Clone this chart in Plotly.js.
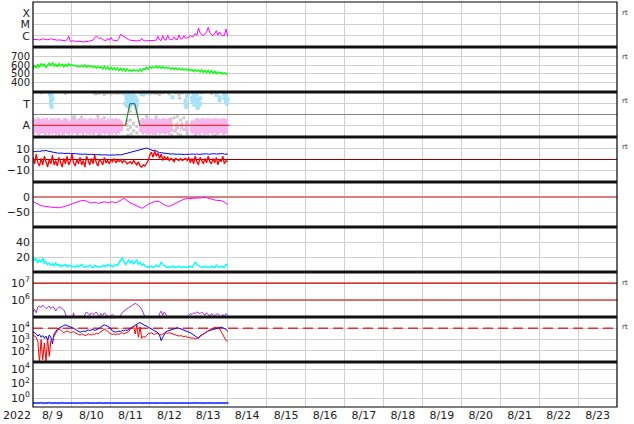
<!DOCTYPE html>
<html><head><meta charset="utf-8">
<script src="https://cdn.plot.ly/plotly-3.0.1.min.js"></script>
<style>html,body{margin:0;padding:0;background:#fff}#chart{width:634px;height:424px}</style>
</head><body><div id="chart"></div>
<script>
// ---- time grid: hourly samples from 2022-08-09 00:00 UTC ----
const START = Date.UTC(2022, 7, 9);
const END = Date.UTC(2022, 7, 24);
const HOUR = 3600000;
const hours = []; for (let h = 0; h <= 120; h++) hours.push(h);

// ---- panel 1: X-ray flux (W/m2) ----
const xray = [
4.8e-7,4.6e-7,4.4e-7,4.5e-7,4.3e-7,4.6e-7,5.2e-7,4.9e-7,4.5e-7,4.4e-7,4.6e-7,5.4e-7,
4.9e-7,4.5e-7,4.2e-7,4.0e-7,4.3e-7,4.1e-7,3.9e-7,4.0e-7,3.6e-7,4.5e-7,9e-7,3.2e-7,
3.4e-7,3.6e-7,3.2e-7,3.0e-7,3.3e-7,3.1e-7,2.9e-7,2.8e-7,3.0e-7,2.9e-7,3.2e-7,3.4e-7,
3.8e-7,4.2e-7,6.5e-7,9.5e-7,7e-7,5.5e-7,6.6e-7,4.5e-7,4.0e-7,3.6e-7,5.8e-7,4.0e-7,
7e-7,4.2e-7,3.8e-7,3.5e-7,3.6e-7,6e-7,1.3e-6,1.1e-6,8.5e-7,6.5e-7,5.2e-7,4.4e-7,
4.0e-7,3.8e-7,3.6e-7,3.7e-7,3.5e-7,3.9e-7,3.6e-7,6e-7,3.8e-7,3.5e-7,3.6e-7,3.4e-7,
3.7e-7,3.5e-7,3.8e-7,3.6e-7,4.0e-7,9e-7,4.2e-7,3.8e-7,1.0e-6,4.5e-7,4.1e-7,1.1e-6,
5e-7,4.4e-7,4.6e-7,8e-7,4.6e-7,4.4e-7,1.2e-6,5e-7,5.5e-7,1.0e-6,6e-7,6.5e-7,
7e-7,1.1e-6,8e-7,9e-7,1.6e-6,1.0e-6,5e-6,1.8e-6,1.2e-6,1.0e-6,1.5e-6,2.2e-6,
5.5e-6,2e-6,1.2e-6,1.0e-6,1.6e-6,2.8e-6,1.1e-6,2.2e-6,1.2e-6,1.0e-6,1.1e-6,4e-6,
9e-7];
const xrayTickVals = [1e-6, 1e-5, 1e-4];
const xrayTickText = ['C', 'M', 'X'];

// ---- panel 2: solar wind speed (km/s) ----
const speed = [
560,600,565,610,575,620,590,612,572,605,622,590,
630,588,612,580,620,590,610,578,608,585,618,595,
606,592,598,585,595,578,600,580,603,575,598,585,
590,572,588,565,585,568,582,558,588,555,580,550,
578,548,572,542,568,538,562,535,560,530,558,535,
546,530,550,535,545,528,555,532,560,548,578,552,
585,565,582,570,590,568,588,562,585,560,578,565,
575,552,570,552,568,548,565,545,562,542,558,540,
555,535,550,528,548,530,545,520,548,515,540,512,
540,508,535,505,532,502,522,505,518,498,515,496,
505];
const speedTicks = [400, 500, 600, 700];

// ---- panel 3: IMF sector (A = -1, T = +1) ----
const sectorTickVals = [-1, 1];
const sectorTickText = ['A', 'T'];
const pinkHi = [
-0.35,-0.3,-0.4,-0.25,-0.35,-0.45,-0.3,-0.4,-0.3,-0.35,-0.5,-0.3,
-0.4,-0.3,-0.45,-0.35,-0.3,-0.4,-0.5,-0.35,-0.3,-0.45,-0.6,-0.4,
-0.35,-0.45,-0.3,-0.4,-0.35,-0.3,-0.45,-0.4,-0.35,-0.5,-0.4,-0.35,
-0.3,-0.45,-0.35,-0.4,-0.3,-0.45,-0.35,-0.3,-0.4,-0.5,-0.35,-0.4,
-0.45,-0.35,-0.4,-0.3,-0.45,-0.4,-0.5,-0.6,null,null,-0.8,null,
null,null,null,null,null,null,-0.5,-0.35,-0.3,-0.4,-0.35,-0.3,
-0.45,-0.35,-0.4,-0.3,-0.35,-0.45,-0.3,-0.4,-0.35,-0.3,-0.45,-0.4,
-0.35,-0.5,-0.7,null,-0.8,-0.6,null,-0.9,-0.7,null,-0.6,-0.8,
null,-0.7,-0.5,-0.6,-0.4,-0.35,-0.3,-0.45,-0.35,-0.3,-0.4,-0.35,
-0.3,-0.45,-0.35,-0.4,-0.3,-0.35,-0.45,-0.3,-0.4,-0.35,-0.3,-0.45,
-0.4];
const pinkLo = [
-1.8,-1.9,-1.75,-1.85,-1.95,-1.8,-1.7,-1.9,-1.85,-1.75,-1.9,-1.8,
-1.85,-1.7,-1.9,-1.8,-1.95,-1.75,-1.85,-1.9,-1.7,-1.8,-1.85,-1.75,
-1.9,-1.8,-1.7,-1.85,-1.9,-1.75,-1.8,-1.95,-1.7,-1.85,-1.8,-1.9,
-1.75,-1.85,-1.9,-1.7,-1.8,-1.95,-1.85,-1.75,-1.9,-1.8,-1.7,-1.85,
-1.8,-1.9,-1.75,-1.85,-1.7,-1.8,-1.6,-1.5,null,null,-1.2,null,
null,null,null,null,null,null,-1.6,-1.8,-1.9,-1.75,-1.85,-1.8,
-1.9,-1.7,-1.85,-1.8,-1.9,-1.75,-1.85,-1.8,-1.7,-1.9,-1.8,-1.75,
-1.85,-1.6,-1.5,null,-1.7,-1.4,null,-1.6,-1.3,null,-1.5,-1.7,
null,-1.6,-1.8,-1.75,-1.9,-1.85,-1.8,-1.95,-1.75,-1.85,-1.9,-1.8,
-1.85,-1.75,-1.9,-1.8,-1.7,-1.85,-1.9,-1.8,-1.75,-1.85,-1.9,-1.8,
-1.85];
const towardH = [10.5,11,11,11,11.5,11.5,12,57,57.5,58,58,58,58.5,59,59,59,59.5,60,60,60,60.5,61,61,61.5,62,62,62.5,63,63,63.5,64,64,67,69,86,94,94,94.5,95,95,98,98.5,99,99,99.5,100,100,101,101,101,101.5,102,102,103,103,113,115,115,118,118,119,119,119.5,120];
const towardV = [1.9,1.6,1.3,1.0,0.7,1.75,1.45,1.0,1.5,1.8,1.2,0.8,1.4,2.0,1.6,1.1,0.7,1.9,1.3,0.9,1.65,2.0,1.5,1.2,1.8,1.0,1.4,1.6,1.1,0.6,1.3,0.9,1.9,2.0,1.6,1.3,1.0,0.7,1.7,0.9,1.5,1.2,1.8,1.3,0.9,1.6,1.1,1.9,1.4,1.0,0.6,1.2,0.8,1.5,1.0,1.8,1.6,1.3,1.9,1.5,1.7,1.2,1.0,1.4];
const grayH = [5,20,38,38.5,40,42,44,46,48,50,52,54,56,66,68,70,72,74,76,78,80,84,88,90,90.5,92,96,104,110,
25,25.5,30,40,40.5,44,58,58,58.5,58.5,60,60,60.5,62,62,64,64,70,76,85,85,85.5,87,87,89,89,89.5,91,91,93,93,95,95,100,112,60,64];
const grayV = [2.0,1.95,2.0,1.9,1.95,2.0,1.85,2.0,1.9,2.0,1.95,2.0,1.9,2.0,1.8,2.0,1.9,2.0,1.95,1.85,2.0,1.9,2.0,1.8,1.5,2.0,1.9,2.0,1.95,
-0.3,-0.2,-0.25,-0.2,-1.95,-0.3,-0.6,-1.0,-1.4,-1.9,-0.5,-1.2,-1.8,-0.8,-1.5,-1.1,-1.7,-0.2,-0.25,-0.4,-1.0,-1.9,-0.3,-1.5,-0.2,-1.2,-1.8,-0.5,-1.9,-0.3,-1.4,-0.7,-1.8,-1.95,-1.95,0.3,0.2];
const sectorLineH = [0, 57, 59.7, 62.8, 65.8, 121];
const sectorLineV = [-1, -1, 1, 1, -1, -1];

// ---- panel 4: IMF Bt (blue) and Bz (red), nT ----
const bt = [
7.0,7.5,7.2,7.8,7.4,7.9,8.2,8.0,8.5,7.8,7.4,7.0,
6.8,6.5,6.2,6.0,5.8,6.2,5.9,5.6,5.8,5.5,5.7,5.4,
5.6,5.3,5.5,5.2,5.0,5.3,5.1,4.8,5.0,4.7,4.9,4.6,
4.8,4.5,4.7,4.4,4.6,4.3,4.5,4.2,4.4,4.1,4.3,4.0,
4.2,3.9,4.1,4.3,4.0,4.4,4.2,4.6,4.8,5.2,5.6,6.0,
6.4,6.9,7.3,7.8,8.2,8.6,9.0,9.4,9.8,10.2,10.6,10.1,
9.5,9.0,8.2,8.6,7.5,7.0,6.5,6.2,5.9,5.6,5.4,5.2,
5.3,5.0,5.2,4.9,5.1,4.8,5.0,4.7,4.9,4.6,4.8,4.5,
4.7,4.9,4.6,5.0,4.8,5.1,4.7,4.9,5.2,4.8,5.0,5.3,
4.9,5.2,5.5,5.1,5.4,5.0,5.3,5.6,5.2,5.5,4.9,5.2,
5.0];
const bz = [
2,-4,5,-3,-6,1,-5,3,-2,-7,0,-4,
4,-5,-1,-6,2,-3,-7,1,-4,3,-5,-2,
5,-3,-6,0,-4,2,-5,-1,-7,3,-2,-5,
1,-4,4,-3,-6,0,-2,-5,2,-3,-1,-4,
0,-2,1,-3,-1,-2,0,-3,-1,-2,-4,-3,
-2,-4,-1,-3,-5,-2,-6,-7,-5,-6,-3,-1,
4,7,2,8,3,6,1,5,-1,3,0,2,
-1,1,0,-2,1,0,-1,1,-1,0,1,-1,
2,-3,1,-4,3,-2,-5,2,-1,-4,1,-3,
3,-2,-4,1,-3,2,-5,0,-2,3,-4,-1,
-2];
const imfTicks = [-10, 0, 10];

// ---- panel 5: Dst (nT) ----
const dst = [
-15,-18,-22,-25,-27,-29,-30,-31,-32,-33,-33,-34,
-34,-35,-35,-36,-36,-35,-34,-33,-31,-29,-27,-25,
-22,-19,-17,-16,-14,-13,-12,-11,-12,-14,-17,-19,
-20,-18,-17,-19,-21,-20,-18,-17,-16,-17,-19,-18,
-17,-16,-18,-19,-17,-14,-10,-6,-5,-8,-13,-18,
-20,-22,-25,-28,-31,-33,-35,-37,-36,-32,-27,-24,
-22,-19,-17,-15,-14,-14,-16,-19,-23,-26,-29,-30,
-31,-29,-26,-23,-20,-17,-14,-12,-10,-8,-6,-5,
-5,-6,-5,-4,-5,-4,-3,-4,-2,-1,-1,-2,
-4,-6,-8,-9,-10,-11,-11,-12,-12,-14,-17,-21,
-25];
const dstTicks = [-50, 0];

// ---- panel 6: proton density (/cc) ----
const density = [
21,15,18,12,16,13,19,11,14,10,12,9,
11,8,12,9,10,7,9,8,10,7,8,9,
7,8,6,9,7,8,10,7,6,8,7,9,
8,6,9,7,8,6,7,9,8,7,10,8,
9,7,8,10,9,12,16,19,14,10,13,16,
12,15,11,14,16,10,13,9,11,8,7,6,
7,8,6,7,9,7,8,13,10,8,7,6,
7,6,8,7,6,7,8,6,7,6,7,6,
7,8,6,9,13,10,8,7,6,7,8,6,
7,6,8,7,6,9,7,6,8,7,6,10,
9];
const densityTicks = [20, 40];

// ---- panel 7: electron flux, log10 ----
const electronLog = [
5.3,5.45,5.25,5.6,5.65,5.55,5.7,5.6,5.5,5.55,5.65,5.5,
5.6,5.55,5.35,5.5,5.6,5.55,5.5,5.4,5.2,4.8,null,null,
4.8,5.25,4.8,null,null,null,null,4.8,5.15,5.3,5.2,5.1,
5.25,5.15,5.2,5.3,5.15,5.05,5.2,5.1,5.25,5.15,5.05,4.8,
5.1,5.15,5.05,4.8,null,4.8,5.1,5.25,5.35,5.4,5.5,5.55,
5.6,5.7,5.75,5.8,5.75,5.7,5.6,5.45,5.2,5.0,4.8,null,
null,null,null,null,null,4.8,5.2,5.35,5.1,5.3,5.15,4.8,
null,null,null,null,null,null,null,null,null,null,null,4.8,
5.1,5.2,5.15,5.25,5.2,5.3,5.25,5.2,5.3,5.2,5.1,5.25,
5.15,5.05,5.2,5.1,5.05,5.15,5.2,5.1,4.9,5.15,5.05,5.2,
5.1];
const electronLevels = [1e6, 1e7];
const electronTicks = [1e6, 1e7];
const electronTickText = ['10<sup>6</sup>', '10<sup>7</sup>'];

// ---- panel 8: fluxes (blue, red), log10 ----
const p8BlueLog = [
3.7,3.6,3.5,3.3,3.45,3.2,3.35,3.1,3.3,2.9,3.4,3.2,
2.6,3.5,3.75,3.9,4.0,4.1,4.2,4.25,4.3,4.25,4.2,4.1,
4.05,4.0,3.9,3.8,3.7,3.65,3.7,3.75,3.7,3.8,3.85,3.8,
3.85,3.9,3.8,3.85,3.9,4.0,4.15,4.25,4.3,4.25,4.2,4.1,
3.95,3.75,3.7,3.65,3.7,3.75,3.7,3.8,3.75,3.85,3.8,3.9,
3.95,4.1,4.2,4.3,4.4,4.45,4.5,4.4,4.3,4.25,4.2,4.1,
4.0,3.9,3.8,3.75,3.7,3.6,3.4,2.9,3.2,3.5,3.7,3.75,
3.8,3.85,3.9,3.95,4.0,4.05,4.0,3.95,3.9,3.85,3.8,3.75,
3.7,3.6,3.5,3.4,3.3,3.15,3.1,3.3,3.4,3.5,3.6,3.7,
3.75,3.8,3.85,3.9,3.95,4.0,4.05,4.1,4.1,4.05,4.0,3.9,
3.7];
const p8RedLog = [
3.4,3.3,3.2,2.8,1.0,3.0,1.2,2.7,1.0,3.1,1.5,2.9,
3.0,3.3,3.6,3.8,3.9,3.85,3.7,3.6,3.7,3.75,3.7,3.6,
3.65,3.7,3.6,3.5,3.45,3.4,3.5,3.45,3.35,3.4,3.5,3.45,
3.4,3.5,3.45,3.55,3.5,3.6,3.7,3.8,3.9,3.85,3.7,3.6,
3.5,3.45,3.5,3.4,3.5,3.45,3.55,3.6,3.5,3.55,3.6,3.7,
3.9,4.1,4.2,3.5,4.3,3.2,4.1,3.1,3.3,3.2,3.4,3.5,
3.55,3.6,3.5,3.45,3.55,3.5,3.45,3.4,3.5,3.55,3.6,3.55,
3.6,3.55,3.5,3.45,3.4,3.35,3.3,3.35,3.3,3.25,3.3,3.2,
3.2,3.15,3.1,3.15,3.05,3.1,3.2,3.3,3.4,3.5,3.6,3.7,
3.8,3.9,3.95,4.0,4.05,4.1,4.05,3.95,3.7,3.4,3.1,2.9,
2.85];
const p8Level = [1e4];
const p8Ticks = [1e2, 1e3, 1e4];
const p8TickText = ['10<sup>2</sup>', '10<sup>3</sup>', '10<sup>4</sup>'];

// ---- panel 9: flux, log10 ----
const p9Log = [
-0.70,-0.68,-0.72,-0.69,-0.71,-0.66,-0.70,-0.73,-0.69,-0.70,-0.67,-0.71,
-0.72,-0.69,-0.70,-0.68,-0.73,-0.70,-0.67,-0.71,-0.69,-0.72,-0.70,-0.68,
-0.71,-0.69,-0.73,-0.70,-0.68,-0.71,-0.72,-0.69,-0.70,-0.67,-0.71,-0.70,
-0.68,-0.72,-0.69,-0.71,-0.70,-0.66,-0.70,-0.72,-0.69,-0.71,-0.70,-0.68,
-0.71,-0.69,-0.70,-0.72,-0.68,-0.70,-0.71,-0.69,-0.73,-0.70,-0.68,-0.71,
-0.70,-0.69,-0.72,-0.70,-0.68,-0.71,-0.69,-0.70,-0.72,-0.69,-0.71,-0.70,
-0.68,-0.71,-0.70,-0.69,-0.72,-0.70,-0.68,-0.71,-0.69,-0.70,-0.72,-0.69,
-0.70,-0.68,-0.71,-0.69,-0.70,-0.72,-0.69,-0.71,-0.70,-0.68,-0.71,-0.70,
-0.69,-0.72,-0.70,-0.68,-0.66,-0.70,-0.71,-0.69,-0.70,-0.72,-0.69,-0.71,
-0.70,-0.68,-0.71,-0.69,-0.72,-0.70,-0.69,-0.71,-0.68,-0.70,-0.72,-0.69,
-0.70];
const p9Ticks = [1, 1e2, 1e4];
const p9TickText = ['10<sup>0</sup>', '10<sup>2</sup>', '10<sup>4</sup>'];

// ---- build ----
const at = hs => hs.map(h => START + h * HOUR);
const pow10 = a => a.map(v => v === null ? null : Math.pow(10, v));
const times = at(hours);
const FONT = 'DejaVu Sans, Liberation Sans, sans-serif';

const line = (y, yaxis, color, width, extra) => Object.assign({
  type: 'scatter', mode: 'lines', x: times, y: y, yaxis: yaxis, xaxis: 'x',
  line: {color: color, width: width || 1}, connectgaps: false, hoverinfo: 'skip', showlegend: false
}, extra || {});
const hline = (v, yaxis, color, width, dash) => ({
  type: 'scatter', mode: 'lines', x: [START, END], y: [v, v], yaxis: yaxis, xaxis: 'x',
  line: {color: color, width: width, dash: dash || 'solid'}, hoverinfo: 'skip', showlegend: false
});
const seg = (i0, i1, color) => ({
  type: 'scatter', mode: 'lines', x: at(sectorLineH.slice(i0, i1 + 1)), y: sectorLineV.slice(i0, i1 + 1),
  yaxis: 'y3', xaxis: 'x', line: {color: color, width: 1.2}, hoverinfo: 'skip', showlegend: false
});

const traces = [
  line(xray, 'y', '#ff00ff', 1),
  line(speed, 'y2', '#00ff00', 1.3),
  {type: 'bar', x: times, base: pinkLo, y: pinkHi.map((v, i) => (v === null || pinkLo[i] === null) ? null : v - pinkLo[i]),
   width: HOUR, yaxis: 'y3', xaxis: 'x', marker: {color: '#f8b6f0', line: {width: 0}}, hoverinfo: 'skip', showlegend: false},
  {type: 'scatter', mode: 'markers', x: at(grayH), y: grayV, yaxis: 'y3', xaxis: 'x',
   marker: {color: '#cccccc', size: 3, symbol: 'square'}, hoverinfo: 'skip', showlegend: false},
  {type: 'scatter', mode: 'markers', x: at(towardH), y: towardV, yaxis: 'y3', xaxis: 'x',
   marker: {color: '#a8e2f8', size: 4, symbol: 'square'}, hoverinfo: 'skip', showlegend: false},
  seg(0, 1, '#ee3333'), seg(1, 2, '#2e7d32'), seg(2, 3, '#3355ff'), seg(3, 4, '#2e7d32'), seg(4, 5, '#ee3333'),
  hline(0, 'y4', '#990000', 1.2),
  line(bt, 'y4', '#0000ff', 1),
  line(bz, 'y4', '#ff0000', 1.3),
  hline(0, 'y5', '#d98080', 2.2),
  line(dst, 'y5', '#ff00ff', 1),
  line(density, 'y6', '#00ffff', 1.4),
  hline(electronLevels[0], 'y7', '#cc0000', 1.2),
  hline(electronLevels[1], 'y7', '#cc0000', 1.2),
  line(pow10(electronLog), 'y7', '#9b30d9', 1),
  hline(p8Level[0], 'y8', '#dd3333', 1.5, '10px,5px'),
  line(pow10(p8BlueLog), 'y8', '#0000ff', 1),
  line(pow10(p8RedLog), 'y8', '#ff0000', 1),
  line(pow10(p9Log), 'y9', '#3344ff', 1, {mode: 'lines+markers', marker: {size: 2, color: '#3344ff'}})
];

const yDefs = [
  {type: 'log', range: [-7, -3], tickvals: xrayTickVals, ticktext: xrayTickText},
  {range: [290, 810], tickvals: speedTicks, tickfont: {family: FONT, size: 10, color: '#222'}},
  {range: [-2.08, 2.08], tickvals: sectorTickVals, ticktext: sectorTickText, zeroline: true, zerolinecolor: '#808080', zerolinewidth: 1},
  {range: [-20.8, 20.8], tickvals: imfTicks},
  {range: [-100, 50], tickvals: dstTicks},
  {range: [0, 60], tickvals: densityTicks},
  {type: 'log', range: [5, 7.65], tickvals: electronTicks, ticktext: electronTickText},
  {type: 'log', range: [1, 5], tickvals: p8Ticks, ticktext: p8TickText},
  {type: 'log', range: [-1.25, 5], tickvals: p9Ticks, ticktext: p9TickText}
];

const layout = {
  width: 634, height: 424,
  margin: {l: 33, r: 17, t: 2, b: 17, pad: 0},
  paper_bgcolor: '#ffffff', plot_bgcolor: '#ffffff',
  font: {family: FONT, size: 11, color: '#222'},
  showlegend: false, bargap: 0,
  xaxis: {
    type: 'date', range: [START, END], anchor: 'y9',
    dtick: 86400000, tick0: START, ticklabelmode: 'period', tickformat: '%-m/%e',
    showgrid: true, gridcolor: '#d0d0d0', gridwidth: 1, zeroline: false, ticks: '',
    tickfont: {family: FONT, size: 11, color: '#222'}, showline: false, fixedrange: true
  },
  shapes: [],
  annotations: []
};
yDefs.forEach((d, i) => {
  const key = i === 0 ? 'yaxis' : 'yaxis' + (i + 1);
  layout[key] = Object.assign({
    domain: [1 - (i + 1) / 9, 1 - i / 9], anchor: 'x',
    showgrid: true, gridcolor: '#d0d0d0', gridwidth: 1, zeroline: false, ticks: '',
    tickfont: {family: FONT, size: 11, color: '#222'}, showline: false, fixedrange: true,
    ticklabelstandoff: 2
  }, d);
});

// frame and thick separators
layout.shapes.push({type: 'rect', xref: 'paper', yref: 'paper', x0: 0, x1: 1, y0: 0, y1: 1,
  line: {color: '#000', width: 1.2}, layer: 'above'});
for (let k = 1; k <= 8; k++) {
  layout.shapes.push({type: 'line', xref: 'paper', yref: 'paper', x0: 0, x1: 1, y0: k / 9, y1: k / 9,
    line: {color: '#111', width: 3}, layer: 'above'});
}
// year label and right-side markers
layout.annotations.push({xref: 'paper', yref: 'paper', x: -16 / 584, y: -9 / 405, text: '2022',
  showarrow: false, xanchor: 'center', yanchor: 'middle', font: {family: FONT, size: 11, color: '#222'}});
[13, 57, 101, 147, 283, 327].forEach(py => {
  layout.annotations.push({xref: 'paper', yref: 'paper', x: 1, xshift: 3, y: 1 - (py - 2) / 405, text: 'rt',
    showarrow: false, xanchor: 'left', yanchor: 'middle', font: {family: FONT, size: 7, color: '#333'}});
});

Plotly.newPlot('chart', traces, layout, {staticPlot: true, displayModeBar: false});
</script>
</body></html>
